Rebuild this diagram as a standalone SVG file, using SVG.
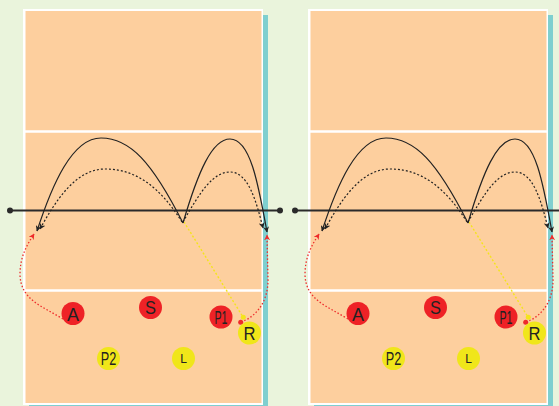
<svg xmlns="http://www.w3.org/2000/svg" width="559" height="406" viewBox="0 0 559 406">
<defs>
<style>
.shadow{fill:#7fcfcf}
.border{fill:#ffffff}
.floor{fill:#fdcf9e}
.cline{stroke:#ffffff;stroke-width:2.5}
.net{stroke:#2a2a2a;stroke-width:2}
.netdot{fill:#2a2a2a}
.solid{fill:none;stroke:#222;stroke-width:1.2;marker-end:url(#ab)}
.dotted{fill:none;stroke:#222;stroke-width:1.2;stroke-dasharray:2 2;marker-end:url(#ab)}
.red{fill:none;stroke:#ee2a2a;stroke-width:1.3;stroke-dasharray:1.5 2}
.redarr{marker-end:url(#ar)}
.yel{fill:none;stroke:#f4e41c;stroke-width:1.4;stroke-dasharray:2 2}
.pr{fill:#ee2226}
.py{fill:#f0e61a}
.lab{font-family:"Liberation Sans",Arial,sans-serif;fill:#222;text-anchor:middle}
</style>
<marker id="ab" viewBox="0 0 10 10" refX="9" refY="5" markerWidth="6" markerHeight="6" markerUnits="userSpaceOnUse" orient="auto"><path d="M0,0 L10,5 L0,10 L3,5 z" fill="#222"/></marker>
<marker id="ar" viewBox="0 0 10 10" refX="9" refY="5" markerWidth="6" markerHeight="6" markerUnits="userSpaceOnUse" orient="auto"><path d="M0,0 L10,5 L0,10 L3,5 z" fill="#ee2a2a"/></marker>
</defs>
<rect width="559" height="406" fill="#eaf4dc"/>

<g id="court-left">
<rect class="shadow" x="29" y="15" width="239" height="395"/>
<rect class="border" x="23" y="9" width="240" height="396"/>
<rect class="floor" x="25.5" y="11" width="236" height="392"/>
<line class="cline" x1="25" y1="131.5" x2="262" y2="131.5"/>
<line class="cline" x1="25" y1="290.5" x2="262" y2="290.5"/>
</g>
<g id="court-right">
<rect class="shadow" x="314" y="15" width="239" height="395"/>
<rect class="border" x="308" y="9" width="240" height="396"/>
<rect class="floor" x="310.5" y="11" width="236" height="392"/>
<line class="cline" x1="310" y1="131.5" x2="547" y2="131.5"/>
<line class="cline" x1="310" y1="290.5" x2="547" y2="290.5"/>
</g>

<g id="net-left">
<line class="net" x1="10" y1="210.5" x2="280" y2="210.5"/>
<circle class="netdot" cx="10" cy="210.5" r="3"/>
<circle class="netdot" cx="280" cy="210.5" r="3"/>
</g>
<g id="net-right">
<line class="net" x1="295" y1="210.5" x2="565" y2="210.5"/>
<circle class="netdot" cx="295" cy="210.5" r="3"/>
</g>

<g id="connectors">
<g id="conn-left">
<path class="yel" d="M184,222 L243,317"/>
<path class="solid" d="M183,223 C152,162 130,138 101,138 C72,138 52,185 37,231"/>
<path class="solid" d="M183,223 C198,172 212,139 230,139 C250,139 258,182 267,232"/>
<path class="dotted" d="M182,222 C160,187 136,169 105,169 C76,169 56,200 40,229"/>
<path class="dotted" d="M183,222 C200,192 213,172 230,172 C248,172 256,200 263,228"/>
<path class="red redarr" d="M63,319 C42,306 21,300 20,275 C20,256 27,245 34,234"/>
<path class="red redarr" d="M241,322 C258,316 268,300 268,280 L267,235"/>
<circle cx="243.3" cy="317.3" r="2.5" fill="#f4e41c"/>
<circle cx="240.7" cy="322.3" r="2.5" fill="#ee2a2a"/>
</g>
<g id="conn-right" transform="translate(285,0)">
<path class="yel" d="M184,222 L243,317"/>
<path class="solid" d="M183,223 C152,162 130,138 101,138 C72,138 52,185 37,231"/>
<path class="solid" d="M183,223 C198,172 212,139 230,139 C250,139 258,182 267,232"/>
<path class="dotted" d="M182,222 C160,187 136,169 105,169 C76,169 56,200 40,229"/>
<path class="dotted" d="M183,222 C200,192 213,172 230,172 C248,172 256,200 263,228"/>
<path class="red redarr" d="M63,319 C42,306 21,300 20,275 C20,256 27,245 34,234"/>
<path class="red redarr" d="M241,322 C258,316 268,300 268,280 L267,235"/>
<circle cx="243.3" cy="317.3" r="2.5" fill="#f4e41c"/>
<circle cx="240.7" cy="322.3" r="2.5" fill="#ee2a2a"/>
</g>
</g>

<g id="L-A"><circle class="pr" cx="73" cy="313.5" r="11.5"/><text class="lab" x="73" y="320.5" font-size="19" textLength="12" lengthAdjust="spacingAndGlyphs">A</text></g>
<g id="L-S"><circle class="pr" cx="150.5" cy="307.5" r="11.5"/><text class="lab" x="150.5" y="314" font-size="18" textLength="11" lengthAdjust="spacingAndGlyphs">S</text></g>
<g id="L-P1"><circle class="pr" cx="221" cy="317" r="11.5"/><text class="lab" x="221" y="323.5" font-size="18" textLength="13" lengthAdjust="spacingAndGlyphs">P1</text></g>
<g id="L-R"><circle class="py" cx="249.5" cy="333" r="11.5"/><text class="lab" x="249.5" y="339.5" font-size="18" textLength="12" lengthAdjust="spacingAndGlyphs">R</text></g>
<g id="L-P2"><circle class="py" cx="108.5" cy="358.5" r="11.5"/><text class="lab" x="108.5" y="365" font-size="18" textLength="15.5" lengthAdjust="spacingAndGlyphs">P2</text></g>
<g id="L-L"><circle class="py" cx="183.5" cy="358.5" r="11.5"/><text class="lab" x="183.5" y="363" font-size="12">L</text></g>

<g id="R-A"><circle class="pr" cx="358" cy="313.5" r="11.5"/><text class="lab" x="358" y="320.5" font-size="19" textLength="12" lengthAdjust="spacingAndGlyphs">A</text></g>
<g id="R-S"><circle class="pr" cx="435.5" cy="307.5" r="11.5"/><text class="lab" x="435.5" y="314" font-size="18" textLength="11" lengthAdjust="spacingAndGlyphs">S</text></g>
<g id="R-P1"><circle class="pr" cx="506" cy="317" r="11.5"/><text class="lab" x="506" y="323.5" font-size="18" textLength="13" lengthAdjust="spacingAndGlyphs">P1</text></g>
<g id="R-R"><circle class="py" cx="534.5" cy="333" r="11.5"/><text class="lab" x="534.5" y="339.5" font-size="18" textLength="12" lengthAdjust="spacingAndGlyphs">R</text></g>
<g id="R-P2"><circle class="py" cx="393.5" cy="358.5" r="11.5"/><text class="lab" x="393.5" y="365" font-size="18" textLength="15.5" lengthAdjust="spacingAndGlyphs">P2</text></g>
<g id="R-L"><circle class="py" cx="468.5" cy="358.5" r="11.5"/><text class="lab" x="468.5" y="363" font-size="12">L</text></g>
</svg>
